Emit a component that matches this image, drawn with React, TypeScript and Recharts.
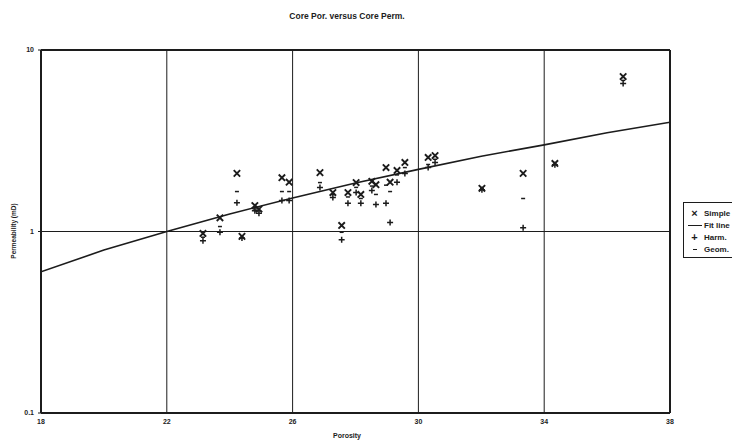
import React from 'react'
import {
  ScatterChart,
  Scatter,
  XAxis,
  YAxis,
  ReferenceLine,
} from 'recharts'

// Core samples: porosity (%) with simple, geometric and harmonic mean permeability (mD)
const porosity   = [23.15, 23.69, 24.23, 24.39, 24.8, 24.93, 25.66, 25.89, 26.87, 27.28, 27.56, 27.76, 28.02, 28.17, 28.52, 28.65, 28.97, 29.1, 29.32, 29.57, 30.31, 30.53, 32.02, 33.33, 34.34, 36.51]
const simplePerm = [0.975, 1.19, 2.09, 0.94, 1.39, 1.33, 1.98, 1.87, 2.11, 1.64, 1.08, 1.64, 1.86, 1.6, 1.89, 1.81, 2.25, 1.87, 2.17, 2.4, 2.56, 2.62, 1.73, 2.09, 2.37, 7.14]
const geomPerm   = [0.93, 1.065, 1.66, 0.93, 1.33, 1.3, 1.66, 1.66, 1.86, 1.6, 0.99, 1.55, 1.75, 1.52, 1.78, 1.6, 1.8, 1.66, 2.05, 2.25, 2.34, 2.5, 1.72, 1.52, 2.35, 6.8]
const harmPerm   = [0.89, 0.99, 1.44, 0.92, 1.3, 1.26, 1.48, 1.48, 1.75, 1.54, 0.9, 1.43, 1.64, 1.43, 1.68, 1.41, 1.43, 1.12, 1.87, 2.09, 2.25, 2.4, 1.7, 1.05, 2.33, 6.54]

// Fit line
const fitPorosity = [18, 20, 22, 24, 26, 28, 30, 32, 34, 36, 38]
const fitPerm     = [0.6, 0.79, 1.0, 1.25, 1.53, 1.85, 2.2, 2.6, 3.0, 3.5, 4.0]

const xTicks = [18, 22, 26, 30, 34, 38]
const yTicks = [0.1, 1, 10]
const xGrid  = [22, 26, 30, 34]

const toPoints = (xs: number[], ys: number[]) => xs.map((x, i) => ({ x, y: ys[i] }))

const simpleData = toPoints(porosity, simplePerm)
const geomData   = toPoints(porosity, geomPerm)
const harmData   = toPoints(porosity, harmPerm)
const fitData    = toPoints(fitPorosity, fitPerm)

const INK  = '#1c1c1c'
const FONT = '"Liberation Sans", Arial, sans-serif'

const CrossMark = (p: any) => {
  const { cx, cy } = p
  const r = 3.2
  return (
    <path
      d={`M${cx - r},${cy - r}L${cx + r},${cy + r}M${cx + r},${cy - r}L${cx - r},${cy + r}`}
      stroke={INK}
      strokeWidth={1.9}
    />
  )
}

const PlusMark = (p: any) => {
  const { cx, cy } = p
  const r = 3
  return (
    <path
      d={`M${cx - r},${cy}L${cx + r},${cy}M${cx},${cy - r}L${cx},${cy + r}`}
      stroke={INK}
      strokeWidth={1.5}
    />
  )
}

const DashMark = (p: any) => {
  const { cx, cy } = p
  return <path d={`M${cx - 2},${cy}L${cx + 2},${cy}`} stroke={INK} strokeWidth={1.5} />
}

const NoMark = () => <g />

const tickStyle = { fontSize: 7, fontWeight: 700, fill: INK, fontFamily: FONT }

function LegendBox() {
  const row = (mark: React.ReactNode, label: string, h: number) => (
    <div style={{ display: 'flex', alignItems: 'center', height: h }}>
      <div style={{ marginLeft: 3, width: 15, display: 'flex', justifyContent: 'center' }}>{mark}</div>
      <span style={{ marginLeft: 2, fontSize: 8, fontWeight: 700, fontFamily: FONT, color: INK, whiteSpace: 'nowrap' }}>
        {label}
      </span>
    </div>
  )
  return (
    <div
      style={{
        position: 'absolute',
        left: 683,
        top: 202,
        width: 80,
        height: 56,
        border: `1px solid ${INK}`,
        paddingTop: 4,
        boxSizing: 'border-box',
        background: '#fff',
      }}
    >
      {row(<span style={{ fontSize: 11, fontWeight: 700, lineHeight: 1, color: INK }}>×</span>, 'Simple', 12)}
      {row(<div style={{ width: 14, borderTop: `1.5px solid ${INK}` }} />, 'Fit line', 12)}
      {row(<span style={{ fontSize: 11, fontWeight: 700, lineHeight: 1, color: INK }}>+</span>, 'Harm.', 12)}
      {row(<div style={{ width: 4, borderTop: `1.5px solid ${INK}` }} />, 'Geom.', 12)}
    </div>
  )
}

export default function App() {
  return (
    <div
      style={{
        position: 'fixed',
        left: 0,
        top: 0,
        width: 732,
        height: 443,
        overflow: 'hidden',
        background: '#fff',
        fontFamily: FONT,
      }}
    >
      <div
        style={{
          position: 'absolute',
          left: 0,
          width: 694,
          top: 11,
          textAlign: 'center',
          fontSize: 8.5,
          fontWeight: 700,
          color: INK,
        }}
      >
        Core Por. versus Core Perm.
      </div>

      <ScatterChart width={732} height={443} margin={{ top: 50, right: 62, left: 11, bottom: 10 }}>
        <XAxis
          type="number"
          dataKey="x"
          domain={[18, 38]}
          ticks={xTicks}
          allowDataOverflow
          axisLine={false}
          tickLine={false}
          tickSize={4}
          tickMargin={2}
          height={20}
          tick={tickStyle}
        />
        <YAxis
          type="number"
          dataKey="y"
          scale="log"
          domain={[0.1, 10]}
          ticks={yTicks}
          allowDataOverflow
          axisLine={false}
          tickSize={3}
          tickMargin={4}
          width={30}
          tick={tickStyle}
          tickLine={{ stroke: INK }}
        />

        {xGrid.map((x) => (
          <ReferenceLine key={x} x={x} stroke={INK} strokeWidth={1} />
        ))}
        <ReferenceLine y={1} stroke={INK} strokeWidth={1} />

        {/* plot frame */}
        <ReferenceLine x={18} stroke={INK} strokeWidth={2} />
        <ReferenceLine x={38} stroke={INK} strokeWidth={2} />
        <ReferenceLine y={0.1} stroke={INK} strokeWidth={2} />
        <ReferenceLine y={10} stroke={INK} strokeWidth={2} />

        <Scatter
          name="Fit line"
          data={fitData}
          line={{ stroke: INK, strokeWidth: 1.6 }}
          lineType="joint"
          shape={NoMark}
          isAnimationActive={false}
        />
        <Scatter name="Geom." data={geomData} shape={DashMark} isAnimationActive={false} />
        <Scatter name="Harm." data={harmData} shape={PlusMark} isAnimationActive={false} />
        <Scatter name="Simple" data={simpleData} shape={CrossMark} isAnimationActive={false} />
      </ScatterChart>

      <div
        style={{
          position: 'absolute',
          left: 13,
          top: 231,
          transform: 'translate(-50%, -50%) rotate(-90deg)',
          fontSize: 6.5,
          fontWeight: 700,
          color: INK,
          whiteSpace: 'nowrap',
        }}
      >
        Permeability (mD)
      </div>
      <div
        style={{
          position: 'absolute',
          left: 0,
          width: 694,
          top: 432,
          textAlign: 'center',
          fontSize: 7,
          fontWeight: 700,
          color: INK,
        }}
      >
        Porosity
      </div>

      <LegendBox />
    </div>
  )
}
